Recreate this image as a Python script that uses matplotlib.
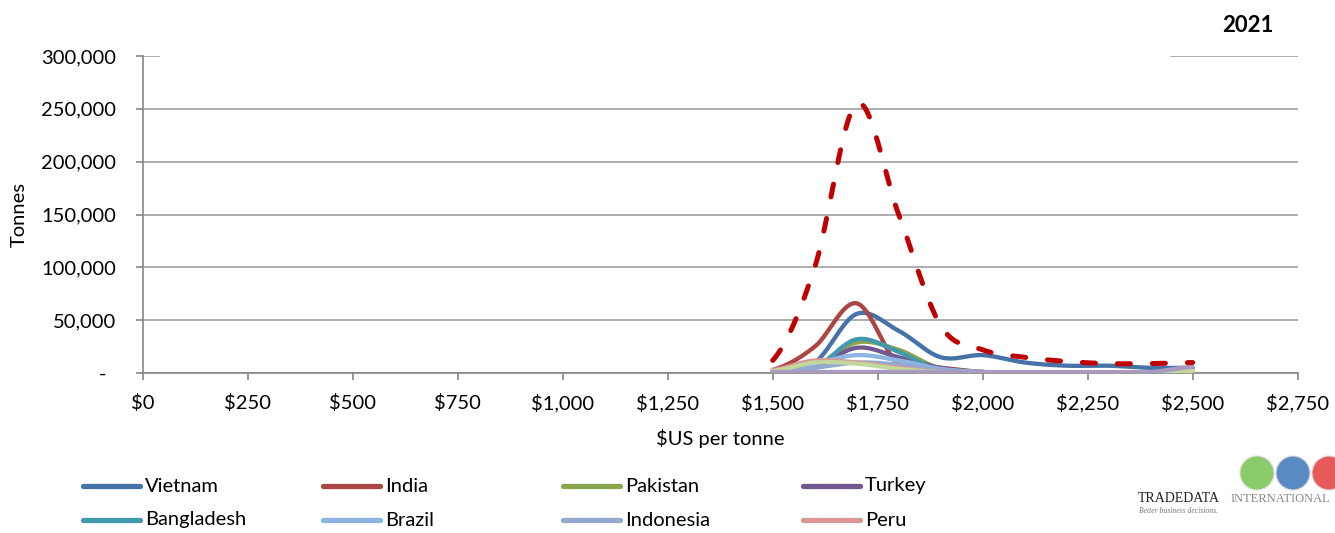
import numpy as np
import matplotlib
matplotlib.use("Agg")
import matplotlib.pyplot as plt
from matplotlib.lines import Line2D
from matplotlib.patches import Rectangle, Ellipse

plt.rcParams['font.family'] = ['Lato', 'DejaVu Sans']

# price points ($US per tonne) and tonnes (thousands) per country
price = [1500, 1600, 1700, 1800, 1900, 2000, 2100, 2200, 2300, 2400, 2500]
vietnam = [2, 10, 56, 40, 15, 17, 10, 7, 7, 5, 5]
india = [3, 25, 66, 8, 5, 1, 0.5, 0.5, 0.5, 0.5, 0.5]
pakistan = [1, 6, 29, 22, 4, 1, 0.5, 0.5, 0.5, 0.5, 1]
turkey = [0.5, 5, 24, 15, 5, 1, 0.5, 0.5, 0.5, 0.5, 0.5]
bangladesh = [0.5, 5, 32, 20, 2, 1, 0.5, 0.5, 0.5, 0.5, 0.5]
brazil = [1, 9, 17, 12, 4, 1, 0.5, 0.5, 0.5, 0.5, 0.5]
indonesia = [1, 5, 10, 8, 3, 1, 0.5, 0.5, 0.5, 0.5, 1]
peru = [3, 12, 10, 5, 1, 0.5, 0.5, 0.5, 0.5, 0.5, 0.5]
other_green = [2, 10, 9, 4, 1, 0.5, 0.5, 0.5, 0.5, 0.5, 2]
other_lilac = [1, 1, 1, 1, 1, 1, 1, 1, 1, 1, 6]
total = [12, 100, 255, 150, 45, 22, 15, 11, 9, 9, 10]

names = ['Vietnam', 'India', 'Pakistan', 'Turkey',
         'Bangladesh', 'Brazil', 'Indonesia', 'Peru']
series = [vietnam, india, pakistan, turkey, bangladesh, brazil, indonesia, peru]
colors = ['#4572A7', '#AA4643', '#89A54E', '#71588F',
          '#4198AF', '#8EB4E3', '#93A9CF', '#D99694']

xticks = list(range(0, 2751, 250))
yticks = list(range(0, 300001, 50000))


def smooth(x, y, n=24):
    # catmull-rom style smoothing, close to excel's smoothed line
    x = np.asarray(x, float)
    y = np.asarray(y, float)
    px = np.concatenate([[2 * x[0] - x[1]], x, [2 * x[-1] - x[-2]]])
    py = np.concatenate([[y[0]], y, [y[-1]]])
    xs, ys = [], []
    t = np.linspace(0, 1, n, endpoint=False)
    for i in range(1, len(px) - 2):
        for p, out in ((px, xs), (py, ys)):
            p0, p1, p2, p3 = p[i - 1], p[i], p[i + 1], p[i + 2]
            c = 0.5 * ((2 * p1) + (-p0 + p2) * t + (2 * p0 - 5 * p1 + 4 * p2 - p3) * t ** 2
                       + (-p0 + 3 * p1 - 3 * p2 + p3) * t ** 3)
            out.extend(c)
    xs.append(x[-1])
    ys.append(y[-1])
    return np.array(xs), np.array(ys)


fig = plt.figure(figsize=(13.35, 5.33), dpi=100)
ax = fig.add_axes([0.107, 0.300, 0.865, 0.595])

for vals, col in zip(series, colors):
    sx, sy = smooth(price, np.array(vals) * 1000)
    ax.plot(sx, sy, color=col, lw=3.1, solid_capstyle='round', zorder=3)
for vals, col in ((other_green, '#C3D69B'), (other_lilac, '#A99BC0')):
    sx, sy = smooth(price, np.array(vals) * 1000)
    ax.plot(sx, sy, color=col, lw=3.1, solid_capstyle='round', zorder=3)

sx, sy = smooth(price, np.array(total) * 1000)
ax.plot(sx, sy, color='#C00000', lw=3.6, dashes=(2.6, 4.4),
        dash_capstyle='round', zorder=4)

ax.set_xlim(0, 2750)
ax.set_ylim(0, 300000)
ax.set_xticks(xticks)
ax.set_xticklabels(['${:,}'.format(v) for v in xticks])
ax.set_yticks(yticks)
ax.set_yticklabels(['-  ' if v == 0 else '{:,}'.format(v) for v in yticks])
ax.tick_params(axis='both', labelsize=14.5, colors='#868686', labelcolor='black',
               length=5, width=1.2, direction='out')
ax.tick_params(axis='y', pad=14)
ax.tick_params(axis='x', pad=10)
ax.grid(axis='y', color='#A0A0A0', lw=1.2)
ax.set_axisbelow(True)
for s in ['top', 'right']:
    ax.spines[s].set_visible(False)
for s in ['left', 'bottom']:
    ax.spines[s].set_color('#868686')
    ax.spines[s].set_linewidth(1.2)

# title box hides part of the top gridline
ax.add_patch(Rectangle((0.015, 0.985), 0.874, 0.04, transform=ax.transAxes,
                       color='white', clip_on=False, zorder=1))

ax.set_xlabel('$US per tonne', fontsize=14.5, labelpad=12)
ax.set_ylabel('Tonnes', fontsize=14.5)
ax.yaxis.set_label_coords(-0.1, 0.5)
fig.text(0.935, 0.953, '2021', fontsize=16, fontweight='bold', ha='center', va='center')

# legend: two rows of four equal columns
for i, (name, col) in enumerate(zip(names, colors)):
    row, c = divmod(i, 4)
    x0 = (83 + 240 * c) / 1335
    y0 = 1 - (486 + 34 * row) / 533
    fig.add_artist(Line2D([x0, x0 + 57 / 1335], [y0, y0], color=col, lw=3.8,
                          solid_capstyle='round'))
    fig.text(x0 + 62 / 1335, y0, name, fontsize=14.5, va='center', ha='left')

# logo
for k, col in enumerate(['#6DBE45', '#2F6DB5', '#E0312F']):
    fig.add_artist(Ellipse(((1257 + 36 * k) / 1335, 1 - 473 / 533), 34 / 1335, 34 / 533,
                           transform=fig.transFigure, facecolor=col, edgecolor='#DDDDDD',
                           alpha=0.8, lw=1))
fig.text(1138 / 1335, 1 - 499 / 533, 'TRADEDATA', fontsize=10, family='Liberation Serif',
         color='#222222', va='center', ha='left')
fig.text(1330 / 1335, 1 - 499 / 533, 'INTERNATIONAL', fontsize=9, family='Liberation Serif',
         color='#888888', va='center', ha='right')
fig.text(1139 / 1335, 1 - 511 / 533, 'Better business decisions.', fontsize=5.5,
         family='Liberation Serif', style='italic', color='#777777', va='center', ha='left')

fig.savefig('out.png', dpi=100)
